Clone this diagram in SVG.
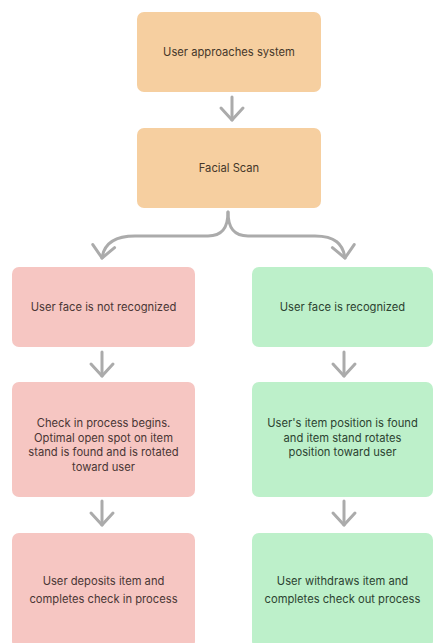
<svg xmlns="http://www.w3.org/2000/svg" width="434" height="643" viewBox="0 0 434 643">
<style>
.o{fill:#F6CFA0}
.p{fill:#F6C6C2}
.g{fill:#BDF0CA}
text{font-family:Inter,"Noto Sans",sans-serif;font-size:11.2px;text-anchor:middle}
.to{fill:#45372a}
.tp{fill:#4a3635}
.tg{fill:#2c4331}
.c{fill:none;stroke:#ABABAB;stroke-width:3;stroke-linecap:round;stroke-linejoin:round}
</style>
<defs>
<marker id="ah" markerUnits="userSpaceOnUse" markerWidth="30" markerHeight="30" refX="15" refY="15" orient="auto" viewBox="0 0 30 30">
<path d="M3,4 L15,15 L3,26" fill="none" stroke="#ABABAB" stroke-width="3" stroke-linecap="round" stroke-linejoin="round"/>
</marker>
</defs>
<rect width="434" height="643" fill="#ffffff"/>
<g id="n1"><rect class="o" x="137" y="12" width="184" height="80" rx="7"/><text class="to" x="229" y="56">User approaches system</text></g>
<g id="n2"><rect class="o" x="137" y="128" width="184" height="80" rx="7"/><text class="to" x="229" y="172">Facial Scan</text></g>
<g id="n3"><rect class="p" x="12" y="267" width="183" height="80" rx="7"/><text class="tp" x="103.5" y="311">User face is not recognized</text></g>
<g id="n4"><rect class="g" x="252" y="267" width="181" height="80" rx="7"/><text class="tg" x="342.5" y="311">User face is recognized</text></g>
<g id="n5"><rect class="p" x="12" y="382" width="183" height="115" rx="7"/><text class="tp" x="103.5" y="427"><tspan x="103.5">Check in process begins.</tspan><tspan x="103.5" dy="14.7">Optimal open spot on item</tspan><tspan x="103.5" dy="14.7">stand is found and is rotated</tspan><tspan x="103.5" dy="14.7">toward user</tspan></text></g>
<g id="n6"><rect class="g" x="252" y="382" width="181" height="115" rx="7"/><text class="tg" x="342.5" y="427"><tspan x="342.5">User's item position is found</tspan><tspan x="342.5" dy="14.7">and item stand rotates</tspan><tspan x="342.5" dy="14.7">position toward user</tspan></text></g>
<g id="n7"><rect class="p" x="12" y="533" width="183" height="115" rx="7"/><text class="tp" x="103.5" y="585"><tspan x="103.5">User deposits item and</tspan><tspan x="103.5" dy="18">completes check in process</tspan></text></g>
<g id="n8"><rect class="g" x="252" y="533" width="181" height="115" rx="7"/><text class="tg" x="342.5" y="585"><tspan x="342.5">User withdraws item and</tspan><tspan x="342.5" dy="18">completes check out process</tspan></text></g>
<g id="connectors">
<path class="c" d="M232,97 L232,120" marker-end="url(#ah)"/>
<path class="c" d="M228,212 C228,228 222,236 208,236 L135,236 C115,236 104,244 102,258" marker-end="url(#ah)"/>
<path class="c" d="M228,212 C228,228 234,236 248,236 L315,236 C335,236 343,244 345,258" marker-end="url(#ah)"/>
<path class="c" d="M102,352 L102,376" marker-end="url(#ah)"/>
<path class="c" d="M344,352 L344,376" marker-end="url(#ah)"/>
<path class="c" d="M102,501 L102,525" marker-end="url(#ah)"/>
<path class="c" d="M344,501 L344,525" marker-end="url(#ah)"/>
</g>
</svg>
